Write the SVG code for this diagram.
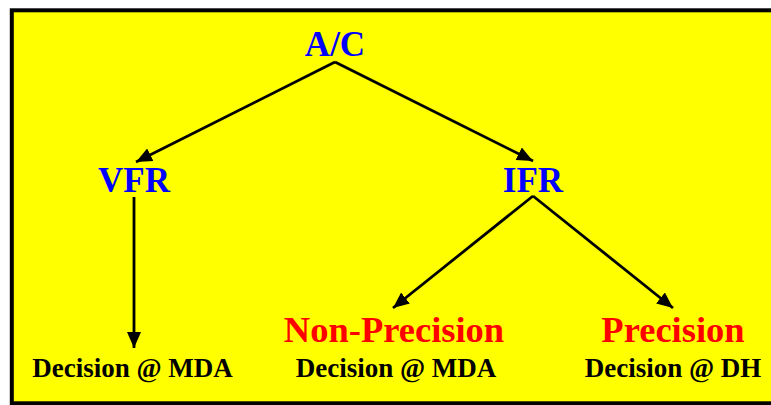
<svg xmlns="http://www.w3.org/2000/svg" width="771" height="405" viewBox="0 0 771 405">
<style>
.t{font-family:"Liberation Serif","Times New Roman",serif;font-weight:bold;text-anchor:middle}
.blue{fill:#0000ff;font-size:35px}
.red{fill:#ff0000;font-size:36.5px}
.blk{fill:#000;font-size:27px}
.c{stroke:#000;stroke-width:2.8;fill:none}
</style>
<defs>
<marker id="ah" markerUnits="userSpaceOnUse" markerWidth="18" markerHeight="16" refX="16" refY="7" orient="auto" viewBox="0 0 18 14">
<path d="M0,0 L16,7 L0,14 Z" fill="#000"/>
</marker>
</defs>
<rect x="11.8" y="10.3" width="790" height="393" fill="#ffff00" stroke="#000" stroke-width="4"/>
<g id="connectors">
<path class="c" d="M335,62 L136,162" marker-end="url(#ah)"/>
<path class="c" d="M335,62 L533,161" marker-end="url(#ah)"/>
<path class="c" d="M134,197 L134,348" marker-end="url(#ah)"/>
<path class="c" d="M533,196 L393,308" marker-end="url(#ah)"/>
<path class="c" d="M533,196 L673,308" marker-end="url(#ah)"/>
</g>
<g id="ac"><text class="t blue" x="335" y="56">A/C</text></g>
<g id="vfr"><text class="t blue" x="134" y="192">VFR</text></g>
<g id="ifr"><text class="t blue" x="533" y="192">IFR</text></g>
<g id="vfr-decision"><text class="t blk" x="132.5" y="377">Decision @ MDA</text></g>
<g id="non-precision"><text class="t red" x="394" y="342">Non-Precision</text><text class="t blk" x="396" y="377">Decision @ MDA</text></g>
<g id="precision"><text class="t red" x="673" y="342">Precision</text><text class="t blk" x="673" y="377">Decision @ DH</text></g>
</svg>
